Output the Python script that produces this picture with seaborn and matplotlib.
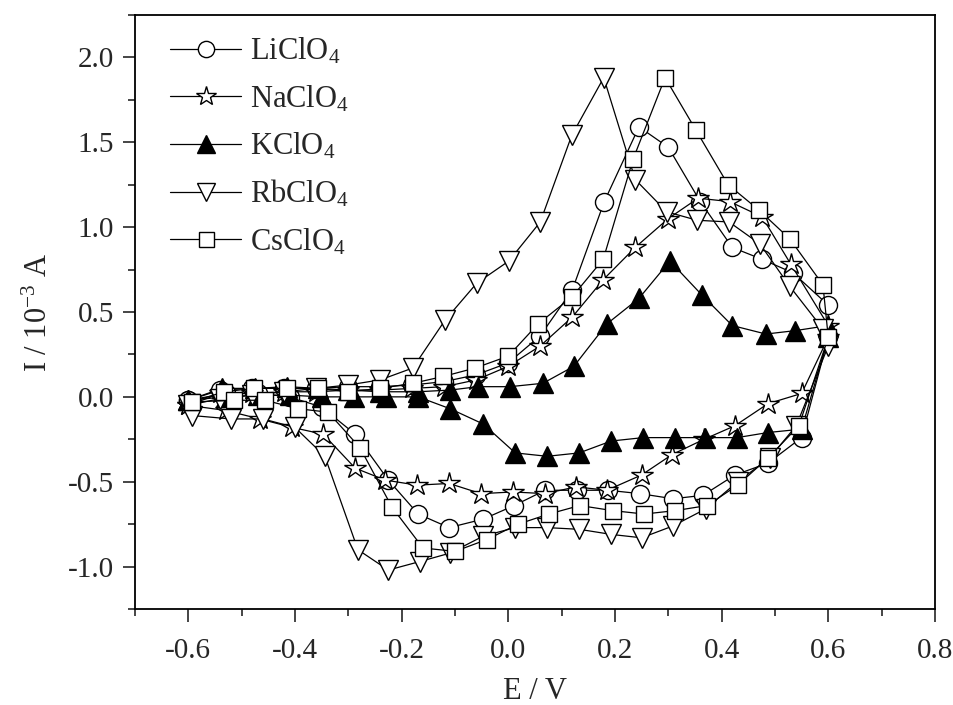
import numpy as np
import pandas as pd
import matplotlib
matplotlib.use("Agg")
import matplotlib.pyplot as plt
from matplotlib.ticker import MultipleLocator, FormatStrFormatter
import seaborn as sns

# ---- data (E / V, I / 1e-3 A) ----
# anodic sweep (-0.6 -> 0.6), then cathodic sweep back (0.6 -> -0.6)
li_E_up = [-0.60, -0.54, -0.48, -0.42, -0.36, -0.30, -0.24, -0.18, -0.12, -0.06, 0.00,
           0.06, 0.12, 0.18, 0.245, 0.30, 0.36, 0.42, 0.476, 0.534, 0.60]
li_I_up = [-0.02, 0.04, 0.05, 0.05, 0.05, 0.06, 0.06, 0.07, 0.09, 0.13, 0.20,
           0.36, 0.63, 1.15, 1.59, 1.47, 1.15, 0.88, 0.81, 0.73, 0.54]
li_E_dn = [0.60, 0.55, 0.487, 0.425, 0.365, 0.309, 0.247, 0.187, 0.129, 0.069, 0.011,
           -0.047, -0.111, -0.169, -0.225, -0.287, -0.35, -0.41, -0.47, -0.53, -0.60]
li_I_dn = [0.35, -0.24, -0.39, -0.46, -0.58, -0.60, -0.57, -0.55, -0.55, -0.55, -0.64,
           -0.72, -0.77, -0.69, -0.49, -0.22, -0.06, 0.00, 0.02, 0.02, -0.02]

na_E_up = [-0.60, -0.54, -0.48, -0.42, -0.36, -0.30, -0.24, -0.18, -0.12, -0.06, 0.00,
           0.06, 0.12, 0.178, 0.238, 0.30, 0.356, 0.415, 0.476, 0.53, 0.60]
na_I_up = [-0.05, 0.02, 0.02, 0.03, 0.03, 0.04, 0.04, 0.05, 0.06, 0.10, 0.18,
           0.30, 0.47, 0.69, 0.88, 1.05, 1.17, 1.15, 1.06, 0.78, 0.42]
na_E_dn = [0.60, 0.55, 0.487, 0.425, 0.367, 0.307, 0.25, 0.185, 0.127, 0.069, 0.009,
           -0.051, -0.111, -0.171, -0.231, -0.287, -0.347, -0.405, -0.466, -0.53, -0.60]
na_I_dn = [0.35, 0.02, -0.04, -0.17, -0.25, -0.34, -0.46, -0.55, -0.53, -0.57, -0.56,
           -0.57, -0.51, -0.52, -0.49, -0.42, -0.22, -0.18, -0.13, -0.08, -0.05]

k_E_up = [-0.60, -0.537, -0.475, -0.415, -0.357, -0.30, -0.24, -0.17, -0.109, -0.057, 0.003,
          0.065, 0.123, 0.185, 0.245, 0.303, 0.363, 0.42, 0.483, 0.538, 0.60]
k_I_up = [-0.02, 0.05, 0.05, 0.06, 0.05, 0.04, 0.03, 0.03, 0.04, 0.06, 0.06,
          0.08, 0.18, 0.43, 0.58, 0.80, 0.60, 0.42, 0.37, 0.39, 0.42]
k_E_dn = [0.60, 0.55, 0.487, 0.429, 0.369, 0.313, 0.253, 0.193, 0.133, 0.073, 0.013,
          -0.047, -0.109, -0.169, -0.23, -0.29, -0.35, -0.41, -0.47, -0.53, -0.60]
k_I_dn = [0.35, -0.19, -0.21, -0.24, -0.24, -0.24, -0.24, -0.26, -0.33, -0.35, -0.33,
          -0.16, -0.07, 0.00, 0.00, 0.00, 0.00, 0.01, 0.01, 0.00, -0.02]

rb_E_up = [-0.60, -0.54, -0.48, -0.42, -0.36, -0.30, -0.24, -0.179, -0.119, -0.059, 0.001,
           0.06, 0.119, 0.179, 0.238, 0.297, 0.354, 0.414, 0.472, 0.528, 0.59]
rb_I_up = [-0.05, -0.01, 0.01, 0.03, 0.05, 0.07, 0.10, 0.17, 0.45, 0.67, 0.80,
           1.03, 1.54, 1.88, 1.28, 1.09, 1.04, 1.03, 0.90, 0.65, 0.40]
rb_E_dn = [0.60, 0.54, 0.49, 0.43, 0.37, 0.309, 0.25, 0.193, 0.133, 0.073, 0.013,
           -0.047, -0.109, -0.166, -0.225, -0.282, -0.344, -0.40, -0.46, -0.52, -0.593]
rb_I_dn = [0.30, -0.17, -0.36, -0.50, -0.66, -0.76, -0.83, -0.81, -0.78, -0.77, -0.77,
           -0.82, -0.92, -0.97, -1.02, -0.90, -0.35, -0.18, -0.13, -0.13, -0.11]

cs_E_up = [-0.593, -0.533, -0.477, -0.415, -0.357, -0.30, -0.24, -0.179, -0.122, -0.062, 0.00,
           0.056, 0.12, 0.178, 0.234, 0.294, 0.352, 0.412, 0.47, 0.528, 0.59]
cs_I_up = [-0.03, 0.03, 0.05, 0.05, 0.05, 0.03, 0.05, 0.08, 0.12, 0.17, 0.24,
           0.43, 0.59, 0.81, 1.40, 1.88, 1.57, 1.25, 1.10, 0.93, 0.66]
cs_E_dn = [0.60, 0.545, 0.487, 0.43, 0.373, 0.313, 0.255, 0.196, 0.134, 0.076, 0.018,
           -0.04, -0.10, -0.16, -0.218, -0.278, -0.338, -0.394, -0.456, -0.514, -0.593]
cs_I_dn = [0.35, -0.17, -0.36, -0.52, -0.64, -0.67, -0.69, -0.67, -0.64, -0.69, -0.75,
           -0.84, -0.91, -0.89, -0.65, -0.30, -0.09, -0.07, -0.02, -0.02, -0.03]

salts = ["LiClO$_4$", "NaClO$_4$", "KClO$_4$", "RbClO$_4$", "CsClO$_4$"]

# ---- styling ----
sns.set_style("ticks")
plt.rcParams["font.family"] = ["Liberation Serif", "DejaVu Serif"]
plt.rcParams["mathtext.fontset"] = "custom"
plt.rcParams["mathtext.rm"] = "Liberation Serif"
plt.rcParams["mathtext.it"] = "Liberation Serif:italic"
plt.rcParams["axes.unicode_minus"] = False

loops = [
    (li_E_up + li_E_dn, li_I_up + li_I_dn, "o", "white", 13),
    (na_E_up + na_E_dn, na_I_up + na_I_dn, "*", "white", 16),
    (k_E_up + k_E_dn, k_I_up + k_I_dn, "^", "black", 15),
    (rb_E_up + rb_E_dn, rb_I_up + rb_I_dn, "v", "white", 15),
    (cs_E_up + cs_E_dn, cs_I_up + cs_I_dn, "s", "white", 12),
]

fig, ax = plt.subplots(figsize=(9.54, 7.05), dpi=100)
fig.subplots_adjust(left=0.1415, right=0.980, bottom=0.136, top=0.979)

for name, (E, I, mk, fc, ms) in zip(salts, loops):
    df = pd.DataFrame({"E": E, "I": I})
    sns.lineplot(data=df, x="E", y="I", sort=False, estimator=None, ax=ax,
                 color="black", lw=0.9, marker=mk, markersize=ms,
                 markerfacecolor=fc, markeredgecolor="black", markeredgewidth=1.0,
                 label=name)

ax.set_xlim(-0.7, 0.8)
ax.set_ylim(-1.25, 2.25)
ax.xaxis.set_major_locator(MultipleLocator(0.2))
ax.xaxis.set_minor_locator(MultipleLocator(0.1))
ax.yaxis.set_major_locator(MultipleLocator(0.5))
ax.yaxis.set_minor_locator(MultipleLocator(0.25))
ax.xaxis.set_major_formatter(FormatStrFormatter("%.1f"))
ax.yaxis.set_major_formatter(FormatStrFormatter("%.1f"))
ax.tick_params(which="major", direction="out", length=9, width=1.2, labelsize=21, pad=6)
ax.tick_params(axis="x", which="major", pad=12)
ax.tick_params(which="minor", direction="out", length=5, width=1.2)
for sp in ax.spines.values():
    sp.set_linewidth(1.3)
    sp.set_color("black")

ax.set_xlabel("E / V", fontsize=22, labelpad=9)
ax.set_ylabel("I / 10$^{-3}$ A", fontsize=22, labelpad=10)

leg = ax.legend(loc="upper left", bbox_to_anchor=(0.01, 1.01), frameon=False,
                fontsize=22, handlelength=2.3, handletextpad=0.3,
                labelspacing=0.55, markerscale=0.9)

plt.savefig("out.png", dpi=100)
